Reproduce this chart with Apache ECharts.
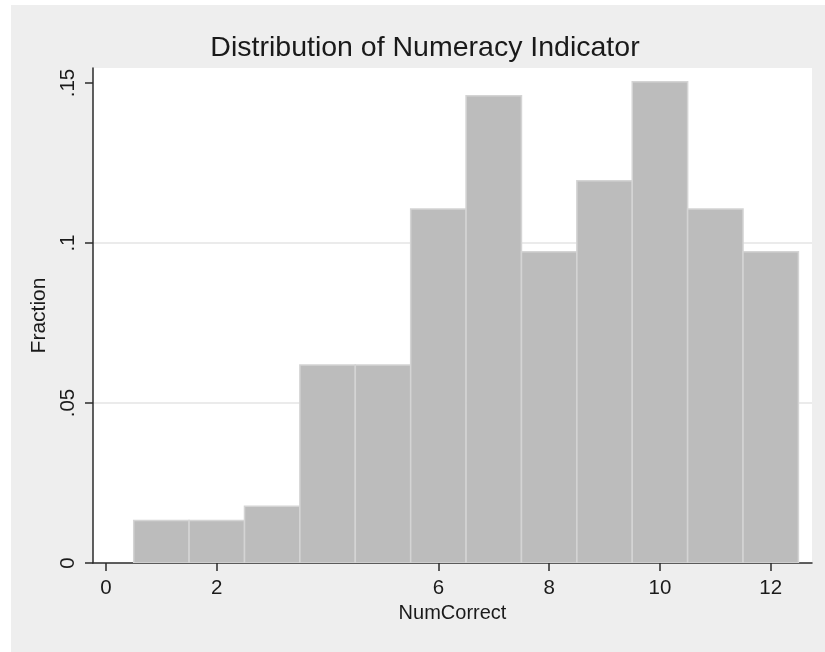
<!DOCTYPE html>
<html>
<head>
<meta charset="utf-8">
<title>Distribution of Numeracy Indicator</title>
<script src="https://cdn.jsdelivr.net/npm/echarts@6/dist/echarts.min.js"></script>
<style>
  html, body { margin: 0; padding: 0; background: #ffffff; }
  #chart { width: 825px; height: 652px; }
</style>
</head>
<body>
<div id="chart"></div>
<script>
// Histogram of NumCorrect: one bin per score, bin centred on the score
const binCenters = [1, 2, 3, 4, 5, 6, 7, 8, 9, 10, 11, 12];
const fractions = [0.0133, 0.0133, 0.0177, 0.0619, 0.0619, 0.1106, 0.1460, 0.0973, 0.1195, 0.1504, 0.1106, 0.0973];
const binWidth = 1;

// Axis labels
const xTickValues = [0, 2, 6, 8, 10, 12];
const yTickValues = [0, 0.05, 0.1, 0.15];

const FONT = '"Liberation Sans", Arial, Helvetica, sans-serif';
const TEXT = '#1a1a1a';
const AXIS = '#2b2b2b';

const chart = echarts.init(document.getElementById('chart'), null, { renderer: 'canvas' });

function fmtFraction(v) {
  const s = String(+v.toFixed(4));
  return s.replace(/^0\./, '.');
}

const option = {
  backgroundColor: '#ffffff',
  animation: false,
  title: {
    text: 'Distribution of Numeracy Indicator',
    left: 420,
    textAlign: 'center',
    top: 29,
    textStyle: { fontFamily: FONT, fontSize: 28.5, fontWeight: 'normal', color: TEXT }
  },
  graphic: [{
    type: 'rect',
    z: -10,
    silent: true,
    shape: { x: 11, y: 5, width: 814, height: 647 },
    style: { fill: '#eeeeee' }
  }],
  grid: {
    left: 93, right: 13, top: 68, bottom: 89,
    show: true, backgroundColor: '#ffffff', borderWidth: 0
  },
  xAxis: {
    type: 'value',
    min: -0.235,
    max: 12.745,
    name: 'NumCorrect',
    nameLocation: 'middle',
    nameGap: 37,
    nameTextStyle: { fontFamily: FONT, fontSize: 20, color: TEXT },
    axisLine: { show: true, onZero: false, lineStyle: { color: AXIS, width: 1.5 } },
    axisTick: { show: true, length: 8, customValues: xTickValues, lineStyle: { color: AXIS, width: 1.5 } },
    axisLabel: { customValues: xTickValues, margin: 15, fontFamily: FONT, fontSize: 20.5, color: TEXT },
    splitLine: { show: false }
  },
  yAxis: {
    type: 'value',
    min: 0,
    max: 0.1547,
    interval: 0.05,
    name: 'Fraction',
    nameLocation: 'middle',
    nameGap: 34,
    nameTextStyle: { fontFamily: FONT, fontSize: 21, color: TEXT },
    axisLine: { show: true, onZero: false, lineStyle: { color: AXIS, width: 1.5 } },
    axisTick: { show: true, length: 8, customValues: yTickValues, lineStyle: { color: AXIS, width: 1.5 } },
    axisLabel: {
      customValues: yTickValues, rotate: 90, margin: 14,
      fontFamily: FONT, fontSize: 20.5, color: TEXT,
      formatter: fmtFraction
    },
    splitLine: { show: true, showMinLine: false, showMaxLine: false, lineStyle: { color: '#ebebeb', width: 2 } }
  },
  series: [{
    type: 'custom',
    clip: true,
    data: binCenters.map((c, i) => [c, fractions[i]]),
    encode: { x: 0, y: 1 },
    renderItem: function (params, api) {
      const c = api.value(0);
      const v = api.value(1);
      const p0 = api.coord([c - binWidth / 2, v]);
      const p1 = api.coord([c + binWidth / 2, 0]);
      return {
        type: 'rect',
        shape: { x: p0[0], y: p0[1], width: p1[0] - p0[0], height: p1[1] - p0[1] },
        style: { fill: '#bcbcbc', stroke: '#d4d4d4', lineWidth: 1.5 }
      };
    }
  }]
};

chart.setOption(option);
</script>
</body>
</html>
